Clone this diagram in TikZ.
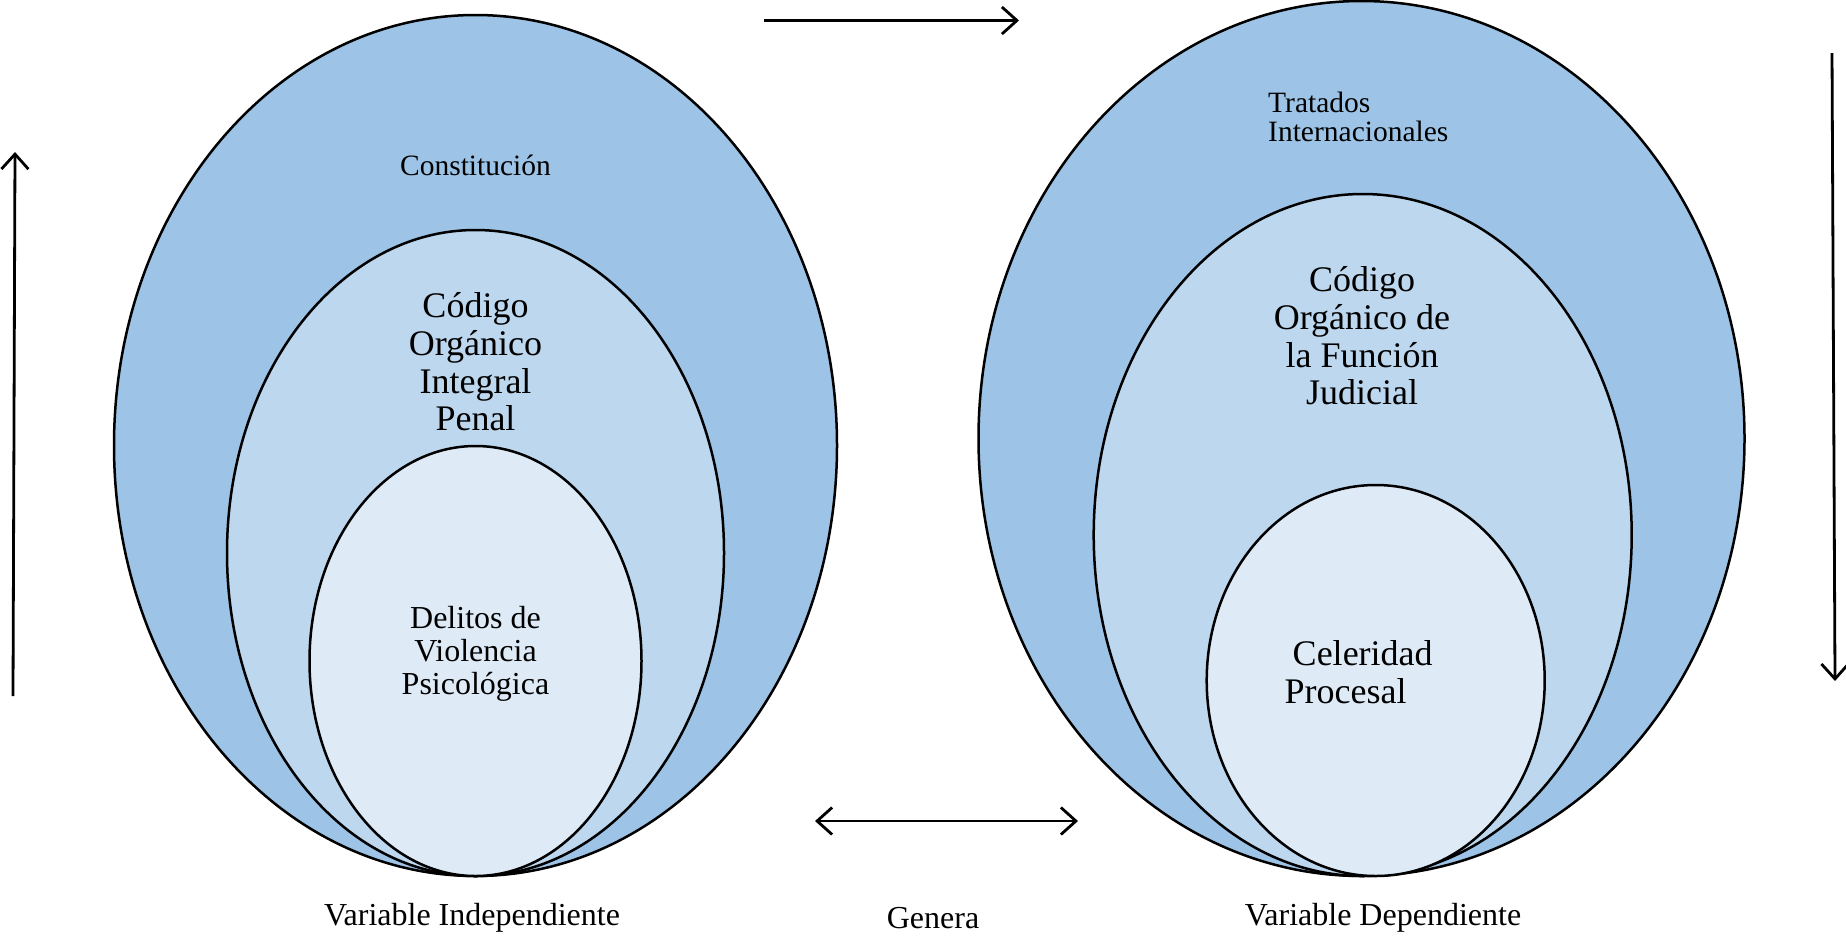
\documentclass[tikz,border=0pt]{standalone}
\usepackage{fontspec}
\setmainfont{Liberation Serif}
\usetikzlibrary{shapes.geometric,arrows.meta}
\definecolor{outerblue}{HTML}{9DC3E6}
\definecolor{midblue}{HTML}{BDD7EE}
\definecolor{innerblue}{HTML}{DEEBF7}
\tikzset{
  oval/.style={ellipse, draw=black, line width=2.5pt, inner sep=0pt, outer sep=0pt},
  lbl/.style={inner sep=0pt, align=center, text=black},
  conn/.style={line width=2.8pt, -{Straight Barb[length=15pt,width=27pt,line width=2.8pt]}},
  bconn/.style={line width=2.8pt, {Straight Barb[length=15pt,width=27pt,line width=2.8pt]}-{Straight Barb[length=15pt,width=27pt,line width=2.8pt]}},
}
\begin{document}
\begin{tikzpicture}[x=1pt,y=-1pt]
\useasboundingbox[fill=white] (0,0) rectangle (1846,938);
% left set
\node[oval, fill=outerblue, minimum width=723pt, minimum height=861pt] (lo) at (475.5,445.5) {};
\node[oval, fill=midblue, minimum width=497pt, minimum height=646pt] (lm) at (475.5,553) {};
\node[oval, fill=innerblue, minimum width=332pt, minimum height=430pt] (li) at (475.5,661) {};
% right set
\node[oval, fill=outerblue, minimum width=766pt, minimum height=875pt] (ro) at (1361.5,438.5) {};
\node[oval, fill=midblue, minimum width=538pt, minimum height=682pt] (rm) at (1362.7,535) {};
\node[oval, fill=innerblue, minimum width=338pt, minimum height=391pt] (ri) at (1375.7,680.5) {};
% texts
\node[lbl, font=\fontsize{29.5}{30}\selectfont] (tcons) at (475.5,165) {Constitución};
\node[lbl, font=\fontsize{36}{37.6}\selectfont] (tcoip) at (475.5,362) {Código\\Orgánico\\Integral\\Penal};
\node[lbl, font=\fontsize{32}{33}\selectfont] (tdel) at (475.5,653.5) {Delitos de\\Violencia\\Psicológica};
\node[lbl, align=left, anchor=west, font=\fontsize{29.5}{29.5}\selectfont] (ttrat) at (1268,117) {Tratados\\Internacionales};
\node[lbl, font=\fontsize{36}{37.6}\selectfont] (tcofj) at (1362,336) {Código\\Orgánico de\\la Función\\Judicial};
\node[lbl, font=\fontsize{36}{37.6}\selectfont] (tcel) at (1362.7,653.5) {Celeridad};
\node[lbl, anchor=west, font=\fontsize{36}{37.6}\selectfont] (tproc) at (1284.5,691) {Procesal};
\node[lbl, font=\fontsize{32}{33}\selectfont] (tvi) at (472,918) {Variable Independiente};
\node[lbl, font=\fontsize{32}{33}\selectfont] (tgen) at (933,918) {Genera};
\node[lbl, font=\fontsize{32}{33}\selectfont] (tvd) at (1383,918) {Variable Dependiente};
% arrows
\coordinate (a1s) at (764,20.5);
\coordinate (a1e) at (1019,20.5);
\coordinate (a2s) at (815,821);
\coordinate (a2e) at (1078,821);
\coordinate (a3s) at (13,696);
\coordinate (a3e) at (15,152);
\coordinate (a4s) at (1832,53);
\coordinate (a4e) at (1835,681);
\draw[conn] (a1s) -- (a1e);
\draw[bconn] (a2s) -- (a2e);
\draw[conn] (a3s) -- (a3e);
\draw[conn] (a4s) -- (a4e);
\end{tikzpicture}
\end{document}
